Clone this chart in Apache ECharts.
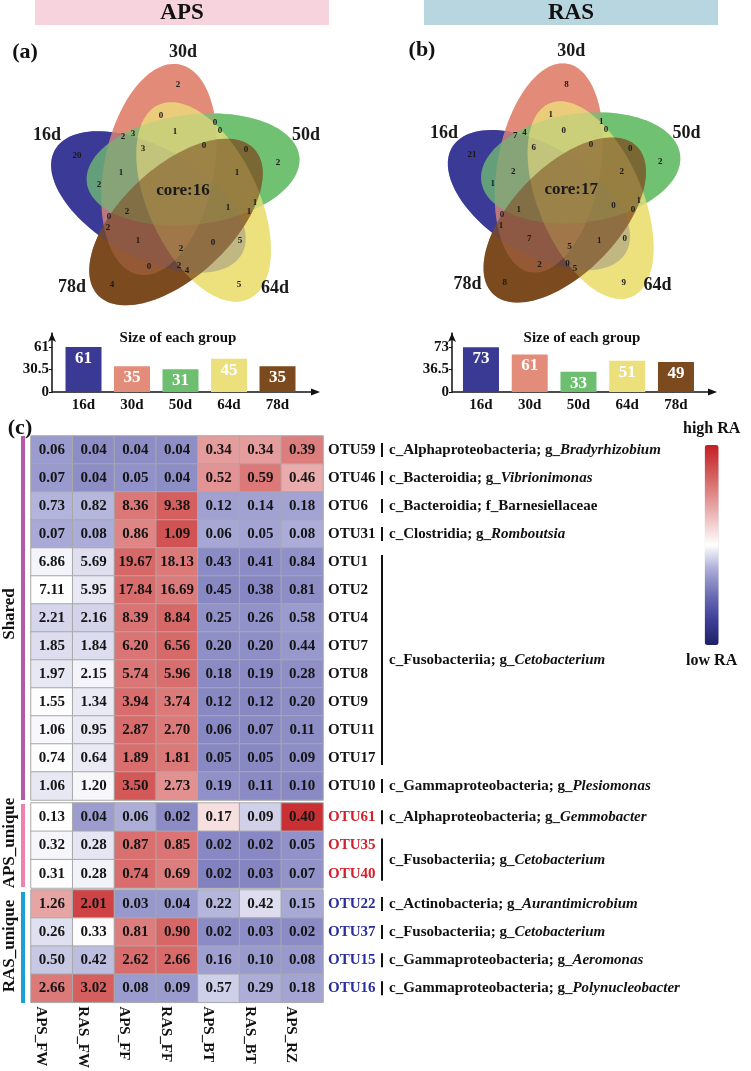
<!DOCTYPE html>
<html><head><meta charset="utf-8">
<script src="https://cdn.jsdelivr.net/npm/echarts@6/dist/echarts.min.js"></script>
<style>html,body{margin:0;padding:0;background:#fff}#c{width:751px;height:1071px}</style>
</head><body><div id="c"></div>
<script>
// ---------------- DATA ----------------
const groups = ['16d', '30d', '50d', '64d', '78d'];
const apsSizes = [61, 35, 31, 45, 35];
const rasSizes = [73, 61, 33, 51, 49];
const apsTicks = [0, 30.5, 61];
const rasTicks = [0, 36.5, 73];

const apsCore = 16;
const rasCore = 17;
// counts of the 30 non-core Venn regions (same region order in both panels)
const apsVenn = [2,0,0,0,1,2,3,3,0,0,20,2,1,1,2,1,1,1,2,0,2,1,0,5,2,0,2,4,4,5];
const rasVenn = [8,1,1,0,0,7,4,6,0,0,21,2,2,2,1,0,1,0,1,0,1,7,1,0,5,2,0,5,8,9];

const samples = ['APS_FW', 'RAS_FW', 'APS_FF', 'RAS_FF', 'APS_BT', 'RAS_BT', 'APS_RZ'];

const sharedOTUs = ['OTU59','OTU46','OTU6','OTU31','OTU1','OTU2','OTU4','OTU7','OTU8','OTU9','OTU11','OTU17','OTU10'];
const sharedValues = [
  [0.06, 0.04, 0.04, 0.04, 0.34, 0.34, 0.39],
  [0.07, 0.04, 0.05, 0.04, 0.52, 0.59, 0.46],
  [0.73, 0.82, 8.36, 9.38, 0.12, 0.14, 0.18],
  [0.07, 0.08, 0.86, 1.09, 0.06, 0.05, 0.08],
  [6.86, 5.69, 19.67, 18.13, 0.43, 0.41, 0.84],
  [7.11, 5.95, 17.84, 16.69, 0.45, 0.38, 0.81],
  [2.21, 2.16, 8.39, 8.84, 0.25, 0.26, 0.58],
  [1.85, 1.84, 6.20, 6.56, 0.20, 0.20, 0.44],
  [1.97, 2.15, 5.74, 5.96, 0.18, 0.19, 0.28],
  [1.55, 1.34, 3.94, 3.74, 0.12, 0.12, 0.20],
  [1.06, 0.95, 2.87, 2.70, 0.06, 0.07, 0.11],
  [0.74, 0.64, 1.89, 1.81, 0.05, 0.05, 0.09],
  [1.06, 1.20, 3.50, 2.73, 0.19, 0.11, 0.10]
];
const apsOTUs = ['OTU61', 'OTU35', 'OTU40'];
const apsValues = [
  [0.13, 0.04, 0.06, 0.02, 0.17, 0.09, 0.40],
  [0.32, 0.28, 0.87, 0.85, 0.02, 0.02, 0.05],
  [0.31, 0.28, 0.74, 0.69, 0.02, 0.03, 0.07]
];
const rasOTUs = ['OTU22', 'OTU37', 'OTU15', 'OTU16'];
const rasValues = [
  [1.26, 2.01, 0.03, 0.04, 0.22, 0.42, 0.15],
  [0.26, 0.33, 0.81, 0.90, 0.02, 0.03, 0.02],
  [0.50, 0.42, 2.62, 2.66, 0.16, 0.10, 0.08],
  [2.66, 3.02, 0.08, 0.09, 0.57, 0.29, 0.18]
];
// [first row, last row, plain part, italic part]
const sharedTaxa = [
  [0, 0, 'c_Alphaproteobacteria; g_', 'Bradyrhizobium'],
  [1, 1, 'c_Bacteroidia; g_', 'Vibrionimonas'],
  [2, 2, 'c_Bacteroidia; f_Barnesiellaceae', ''],
  [3, 3, 'c_Clostridia; g_', 'Romboutsia'],
  [4, 11, 'c_Fusobacteriia; g_', 'Cetobacterium'],
  [12, 12, 'c_Gammaproteobacteria; g_', 'Plesiomonas']
];
const apsTaxa = [
  [0, 0, 'c_Alphaproteobacteria; g_', 'Gemmobacter'],
  [1, 2, 'c_Fusobacteriia; g_', 'Cetobacterium']
];
const rasTaxa = [
  [0, 0, 'c_Actinobacteria; g_', 'Aurantimicrobium'],
  [1, 1, 'c_Fusobacteriia; g_', 'Cetobacterium'],
  [2, 2, 'c_Gammaproteobacteria; g_', 'Aeromonas'],
  [3, 3, 'c_Gammaproteobacteria; g_', 'Polynucleobacter']
];

// ---------------- LAYOUT / STYLE ----------------
const FONT = '"Liberation Serif","Times New Roman",serif';
const setColors = {'16d': '#3b3a96', '30d': '#e38b79', '50d': '#71c172', '64d': '#ece17c', '78d': '#7b4a1e'};
const barColors = ['#3a3a94', '#e48c7a', '#6ebe70', '#ebe07c', '#7b4a1e'];
// venn geometry (local px units of the venn grid)
const VC = [176, 193], VR = 29, EA = 107, EB = 55;
const setK = {'50d': 0, '30d': 1, '16d': 2, '78d': 3, '64d': 4};
const drawOrder = ['16d', '30d', '50d', '64d', '78d'];
const vennLabelXY = [[178,85],[161,116],[215,123],[220,131],[175,132],[123,137],[133,134],[143,149],[204,146],[246,150],
  [77,156],[278,163],[121,173],[237,173],[99,185],[228,208],[255,203],[249,212],[127,212],[109,217],
  [108,228],[138,241],[213,243],[240,241],[181,249],[149,267],[179,266],[187,271],[112,285],[239,285]];
const coreXY = [183, 191];
const setLabelXY = {'30d': [183,52], '16d': [47,135], '50d': [306,135], '78d': [72,287], '64d': [275,288]};

function zscores(row) {
  const n = row.length, m = row.reduce((a, b) => a + b, 0) / n;
  const sd = Math.sqrt(row.reduce((a, b) => a + (b - m) * (b - m), 0) / (n - 1));
  return row.map(v => (v - m) / sd);
}
function heatData(values) {
  const out = [];
  values.forEach((row, r) => {
    const z = zscores(row);
    row.forEach((v, c) => out.push([c, r, z[c], v]));
  });
  return out;
}

// two passes: opaque, then half-transparent (gives blended overlaps, pure single regions)
const ellipseItems = [];
[1, 0.5].forEach(op => drawOrder.forEach(g => ellipseItems.push([g, op])));

function ellipseSeries(gi) {
  return {
    type: 'custom', xAxisIndex: gi, yAxisIndex: gi, silent: true, clip: false,
    data: ellipseItems.map(e => [setK[e[0]]]),
    renderItem: function (params, api) {
      const g = ellipseItems[params.dataIndex][0], op = ellipseItems[params.dataIndex][1];
      const k = setK[g];
      const th = (7 + 72 * k) * Math.PI / 180, off = th + 47 * Math.PI / 180;
      const cx = VC[0] + VR * Math.cos(off), cy = VC[1] - VR * Math.sin(off);
      const pts = [];
      for (let i = 0; i < 120; i++) {
        const t = i / 120 * 2 * Math.PI;
        const ex = EA * Math.cos(t), ey = EB * Math.sin(t);
        const x = cx + ex * Math.cos(th) - ey * Math.sin(th);
        const y = cy - (ex * Math.sin(th) + ey * Math.cos(th));
        pts.push(api.coord([x, y]));
      }
      return {type: 'polygon', shape: {points: pts}, style: {fill: setColors[g], opacity: op}};
    }
  };
}
function vennTextSeries(gi, counts, core) {
  const items = counts.map((c, i) => [vennLabelXY[i][0], vennLabelXY[i][1], String(c), 9]);
  items.push([coreXY[0], coreXY[1], 'core:' + core, 17]);
  groups.forEach(g => items.push([setLabelXY[g][0], setLabelXY[g][1], g, 18]));
  return {
    type: 'custom', xAxisIndex: gi, yAxisIndex: gi, silent: true, clip: false,
    data: items.map(it => [it[0], it[1]]),
    renderItem: function (params, api) {
      const it = items[params.dataIndex];
      const p = api.coord([it[0], it[1]]);
      return {type: 'text', style: {x: p[0], y: p[1], text: it[2], align: 'center', verticalAlign: 'middle',
        fontFamily: FONT, fontWeight: 'bold', fontSize: it[3], fill: '#1a1a1a'}};
    }
  };
}
function barSeries(gi, sizes) {
  return {
    type: 'bar', xAxisIndex: gi, yAxisIndex: gi, barWidth: 36, silent: true,
    data: sizes.map((v, i) => ({value: v, itemStyle: {color: barColors[i]}})),
    label: {show: true, position: 'insideTop', distance: 3, color: '#fff',
      fontFamily: FONT, fontWeight: 'bold', fontSize: 17}
  };
}
function heatSeries(gi, values) {
  return {
    type: 'heatmap', xAxisIndex: gi, yAxisIndex: gi, data: heatData(values), silent: true,
    itemStyle: {borderColor: '#a9a9a9', borderWidth: 1},
    label: {show: true, formatter: p => p.data[3].toFixed(2), fontFamily: FONT,
      fontWeight: 'bold', fontSize: 15, color: '#151515'}
  };
}
function taxaSeries(gi, taxa) {
  return {
    type: 'custom', xAxisIndex: gi, yAxisIndex: gi, silent: true, clip: false,
    data: taxa.map(t => [6, t[0], t[1]]),
    renderItem: function (params, api) {
      const t = taxa[params.dataIndex];
      const p1 = api.coord([6, t[0]]), p2 = api.coord([6, t[1]]);
      const cw = api.size([1, 0])[0];
      const x = p1[0] + cw / 2 + 59;
      const y1 = Math.min(p1[1], p2[1]) - 7, y2 = Math.max(p1[1], p2[1]) + 7;
      const txt = '{n|' + t[2] + '}' + (t[3] ? '{i|' + t[3] + '}' : '');
      return {type: 'group', children: [
        {type: 'line', shape: {x1: x, y1: y1, x2: x, y2: y2}, style: {stroke: '#111', lineWidth: 2}},
        {type: 'text', style: {x: x + 7, y: (p1[1] + p2[1]) / 2, text: txt, verticalAlign: 'middle',
          rich: {n: {fontFamily: FONT, fontWeight: 'bold', fontSize: 15, fill: '#111'},
                 i: {fontFamily: FONT, fontWeight: 'bold', fontStyle: 'italic', fontSize: 15, fill: '#111'}}}}
      ]};
    }
  };
}

const hidden = {show: false};
const vennX = {type: 'value', min: 0, max: 375, show: false};
const vennY = {type: 'value', min: 0, max: 330, inverse: true, show: false};
const axisText = {fontFamily: FONT, fontWeight: 'bold', color: '#111'};

function barX(gi) {
  return {type: 'category', gridIndex: gi, data: groups, axisLine: hidden, axisTick: hidden,
    axisLabel: Object.assign({fontSize: 15, margin: 6}, axisText)};
}
function barY(gi, max, ticks, off) {
  return {type: 'value', gridIndex: gi, min: 0, max: max, interval: ticks[1], offset: off,
    splitLine: hidden,
    axisLine: {show: true, symbol: ['none', 'arrow'], symbolSize: [6, 9], lineStyle: {color: '#111', width: 1.5}},
    axisTick: {show: true, length: 3, lineStyle: {color: '#111'}},
    axisLabel: Object.assign({fontSize: 15, margin: 3, showMaxLabel: false,
      formatter: v => ticks.indexOf(v) >= 0 ? String(v) : ''}, axisText)};
}
function heatX(gi, showLabels) {
  return {type: 'category', gridIndex: gi, data: samples, axisLine: hidden, axisTick: hidden, splitArea: hidden,
    axisLabel: showLabels ? Object.assign({rotate: -90, fontSize: 15, margin: 4, verticalAlign: 'top', lineHeight: 22}, axisText) : hidden};
}
function heatY(gi, otus, color) {
  return {type: 'category', gridIndex: gi, data: otus, inverse: true, position: 'right',
    axisLine: hidden, axisTick: hidden, splitArea: hidden,
    axisLabel: {fontFamily: FONT, fontWeight: 'bold', fontSize: 15, color: color, margin: 5}};
}

function arrowAxis(x0, x1, y) {
  return [
    {type: 'line', shape: {x1: x0, y1: y, x2: x1 - 6, y2: y}, style: {stroke: '#111', lineWidth: 1.5}},
    {type: 'polygon', shape: {points: [[x1, y], [x1 - 9, y - 3.5], [x1 - 9, y + 3.5]]}, style: {fill: '#111'}}
  ];
}
function txt(x, y, s, size, extra) {
  return Object.assign({type: 'text', style: {x: x, y: y, text: s, align: 'center', verticalAlign: 'middle',
    fontFamily: FONT, fontWeight: 'bold', fontSize: size, fill: '#111'}}, extra || {});
}

const graphics = [
  {type: 'rect', shape: {x: 35, y: 0, width: 294, height: 25}, style: {fill: '#f6d3dd'}},
  txt(182, 13, 'APS', 23),
  {type: 'rect', shape: {x: 424, y: 0, width: 294, height: 25}, style: {fill: '#b7d6df'}},
  txt(571, 13, 'RAS', 23),
  txt(25, 52, '(a)', 22), txt(422, 50, '(b)', 22), txt(20, 428, '(c)', 22),
  txt(178, 338, 'Size of each group', 15), txt(582, 338, 'Size of each group', 15),
  ...arrowAxis(52, 320, 392),
  ...arrowAxis(452, 717, 392),
  {type: 'rect', shape: {x: 21, y: 436, width: 4, height: 364}, style: {fill: '#b45aa8'}},
  {type: 'rect', shape: {x: 21, y: 804, width: 4, height: 83}, style: {fill: '#ee82ad'}},
  {type: 'rect', shape: {x: 21, y: 892, width: 4, height: 111}, style: {fill: '#1b9fd5'}},
  {type: 'text', rotation: Math.PI / 2, x: 10, y: 614, style: {x: 0, y: 0, text: 'Shared', align: 'center', verticalAlign: 'middle', fontFamily: FONT, fontWeight: 'bold', fontSize: 17, fill: '#111'}},
  {type: 'text', rotation: Math.PI / 2, x: 10, y: 843, style: {x: 0, y: 0, text: 'APS_unique', align: 'center', verticalAlign: 'middle', fontFamily: FONT, fontWeight: 'bold', fontSize: 17, fill: '#111'}},
  {type: 'text', rotation: Math.PI / 2, x: 10, y: 946, style: {x: 0, y: 0, text: 'RAS_unique', align: 'center', verticalAlign: 'middle', fontFamily: FONT, fontWeight: 'bold', fontSize: 17, fill: '#111'}}
];

const option = {
  animation: false,
  backgroundColor: '#fff',
  grid: [
    {left: 0, top: 0, width: 375, height: 330},
    {left: 400, top: -3, width: 375, height: 330},
    {left: 59.25, top: 333, width: 242.5, height: 59},
    {left: 456.6, top: 333, width: 243.75, height: 59},
    {left: 31, top: 436, width: 292, height: 364},
    {left: 31, top: 803, width: 292, height: 85},
    {left: 31, top: 890, width: 292, height: 114}
  ],
  xAxis: [
    Object.assign({gridIndex: 0}, vennX), Object.assign({gridIndex: 1}, vennX),
    barX(2), barX(3),
    heatX(4, false), heatX(5, false), heatX(6, true)
  ],
  yAxis: [
    Object.assign({gridIndex: 0}, vennY), Object.assign({gridIndex: 1}, vennY),
    barY(2, 80, apsTicks, 7.25), barY(3, 96, rasTicks, 4.6),
    heatY(4, sharedOTUs, '#111'), heatY(5, apsOTUs, '#d4202c'), heatY(6, rasOTUs, '#2a2e9c')
  ],
  visualMap: {
    type: 'continuous', min: -2.27, max: 2.27, dimension: 2, seriesIndex: [6, 7, 8],
    calculable: false, orient: 'vertical', left: 668, top: 406, itemWidth: 14, itemHeight: 200,
    text: ['high RA', 'low RA'], textGap: 8,
    textStyle: {fontFamily: FONT, fontWeight: 'bold', fontSize: 16, color: '#111'},
    inRange: {color: ['#1e2366', '#3c3f98', '#6c6db4', '#a9aad6', '#ffffff', '#f0c4c4', '#e08a8a', '#d25353', '#c41e24']}
  },
  graphic: graphics,
  series: [
    ellipseSeries(0), vennTextSeries(0, apsVenn, apsCore),
    ellipseSeries(1), vennTextSeries(1, rasVenn, rasCore),
    barSeries(2, apsSizes), barSeries(3, rasSizes),
    heatSeries(4, sharedValues), heatSeries(5, apsValues), heatSeries(6, rasValues),
    taxaSeries(4, sharedTaxa), taxaSeries(5, apsTaxa), taxaSeries(6, rasTaxa)
  ]
};
const chart = echarts.init(document.getElementById('c'), null, {renderer: 'canvas'});
chart.setOption(option);
</script></body></html>
